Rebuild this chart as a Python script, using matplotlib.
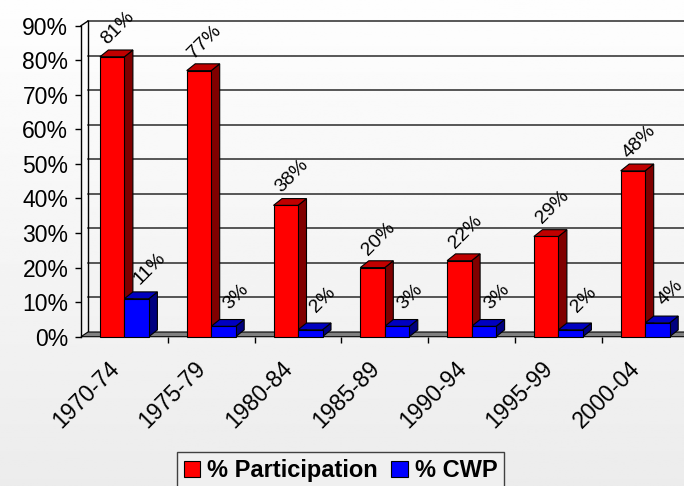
import matplotlib

matplotlib.use("Agg")
import matplotlib.pyplot as plt
import matplotlib.transforms as mtransforms
import numpy as np
from matplotlib.patches import Patch, Polygon

plt.rcParams["font.family"] = ["Liberation Sans", "DejaVu Sans"]

periods = ["1970-74", "1975-79", "1980-84", "1985-89", "1990-94", "1995-99", "2000-04"]
participation = [81, 77, 38, 20, 22, 29, 48]
cwp = [11, 3, 2, 3, 3, 2, 4]

# pixel geometry of the pseudo-3D chart
PX_PER_CAT = 86.8
PX_PER_UNIT = 311 / 0.9
WALL_DX, WALL_DY = 7 / PX_PER_CAT, 4.7 / PX_PER_UNIT
BAR_DX, BAR_DY = 8.5 / PX_PER_CAT, 6.8 / PX_PER_UNIT
BAR_W = 24.5 / PX_PER_CAT

fig = plt.figure(figsize=(6.84, 4.86), dpi=100)

# soft grey background gradient
bg = fig.add_axes([0, 0, 1, 1], zorder=-10)
grad = np.linspace(0.995, 0.925, 256).reshape(-1, 1)
bg.imshow(np.repeat(grad, 2, axis=1), cmap="gray", vmin=0, vmax=1,
          aspect="auto", extent=[0, 1, 0, 1])
bg.axis("off")

ax = fig.add_axes([81 / 684, (486 - 336.7) / 486, 7 * PX_PER_CAT / 684, 311 / 486])
ax.set_xlim(0, 7)
ax.set_ylim(0, 0.9)
ax.patch.set_visible(False)
for side in ["top", "right", "bottom"]:
    ax.spines[side].set_visible(False)
ax.spines["left"].set_linewidth(1.0)

# back wall: gridlines, left edge, floor
for v in np.arange(0.1, 0.91, 0.1):
    ax.plot([WALL_DX, 7 + WALL_DX], [v + WALL_DY] * 2, color="#2a2a2a",
            lw=1.1, clip_on=False, zorder=1)
ax.plot([WALL_DX, WALL_DX], [WALL_DY, 0.9 + WALL_DY], color="black", lw=1.0,
        clip_on=False, zorder=1)
ax.plot([0, WALL_DX], [0.9, 0.9 + WALL_DY], color="black", lw=1.0,
        clip_on=False, zorder=1)
floor = Polygon([(0, 0), (7.2, 0), (7.2 + WALL_DX, WALL_DY), (WALL_DX, WALL_DY)],
                closed=True, facecolor="#808080", edgecolor="black", lw=0.8,
                clip_on=False, zorder=2)
ax.add_patch(floor)


def draw_bar(x0, h, front, side, top):
    x1 = x0 + BAR_W
    ax.add_patch(Polygon([(x1, 0), (x1 + BAR_DX, BAR_DY), (x1 + BAR_DX, h + BAR_DY), (x1, h)],
                         closed=True, facecolor=side, edgecolor="black", lw=0.8,
                         clip_on=False, zorder=3))
    ax.add_patch(Polygon([(x0, h), (x0 + BAR_DX, h + BAR_DY), (x1 + BAR_DX, h + BAR_DY), (x1, h)],
                         closed=True, facecolor=top, edgecolor="black", lw=0.8,
                         clip_on=False, zorder=3))
    ax.bar(x0, h, width=BAR_W, align="edge", color=front, edgecolor="black",
           lw=0.8, zorder=4, clip_on=False)


red_off = mtransforms.offset_copy(ax.transData, fig, x=6, y=29, units="dots")
blue_off = mtransforms.offset_copy(ax.transData, fig, x=13, y=30, units="dots")

for i, (p, c) in enumerate(zip(participation, cwp)):
    center = i + 0.5
    draw_bar(center - BAR_W, p / 100, "#ff0000", "#800000", "#c00000")
    ax.text(center - BAR_W / 2, p / 100, f"{p}%", rotation=45, ha="center",
            va="center", rotation_mode="anchor", fontsize=14, transform=red_off,
            zorder=6)
    draw_bar(center, c / 100, "#0000ff", "#000080", "#0000c0")
    ax.text(center + BAR_W / 2, c / 100, f"{c}%", rotation=45, ha="center",
            va="center", rotation_mode="anchor", fontsize=14, transform=blue_off,
            zorder=6)

ax.set_yticks(np.arange(0, 0.91, 0.1))
ax.set_yticklabels([f"{int(round(v * 100))}%" for v in np.arange(0, 0.91, 0.1)],
                   fontsize=16.5)
ax.tick_params(axis="y", direction="out", length=4.3, width=1.0, pad=4.8)

# category ticks sit on the boundaries, labels are placed under the centres
ax.set_xticks(np.arange(1, 7))
ax.set_xticklabels([])
ax.tick_params(axis="x", direction="out", length=4, width=1.0)
label_off = mtransforms.offset_copy(ax.transData, fig, x=-9, y=-28, units="dots")
for i, period in enumerate(periods):
    ax.text(i + 0.5, 0, period, rotation=45, ha="right", va="center",
            rotation_mode="anchor", fontsize=16.5, transform=label_off)

handles = [Patch(facecolor="#ff0000", edgecolor="black", lw=0.8, label="% Participation"),
           Patch(facecolor="#0000ff", edgecolor="black", lw=0.8, label="% CWP")]
leg = fig.legend(handles=handles, loc="upper center",
                 bbox_to_anchor=(340.5 / 684, 1 - 452 / 486), ncol=2,
                 prop={"weight": "bold", "size": 17}, frameon=True,
                 fancybox=False, edgecolor="#404040", facecolor="#f0f0f0",
                 framealpha=1, handlelength=0.7, handleheight=0.7,
                 handletextpad=0.3, columnspacing=0.55, borderpad=0.3,
                 borderaxespad=0)
leg.get_frame().set_linewidth(1.0)

fig.savefig("out.png", dpi=100)
